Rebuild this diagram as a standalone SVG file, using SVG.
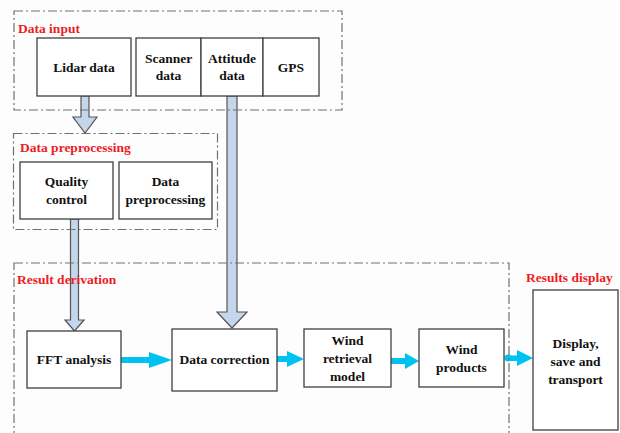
<svg xmlns="http://www.w3.org/2000/svg" width="620" height="433" viewBox="0 0 620 433">
<style>
.grp{fill:none;stroke:#707070;stroke-width:1.2;stroke-dasharray:9 3 2 3}
.box{fill:#fff;stroke:#404040;stroke-width:1.3}
.t{font-family:"Liberation Serif","Times New Roman",serif;font-weight:bold;font-size:13.5px;fill:#111;text-anchor:middle}
.lbl{font-family:"Liberation Serif","Times New Roman",serif;font-weight:bold;font-size:13.5px;fill:#ee1c24}
.blk{fill:#c5d6ec;stroke:#555;stroke-width:1.2;stroke-linejoin:miter}
.cy{fill:#00c2f0;stroke:none}
</style>
<rect width="620" height="433" fill="#fdfdfd"/>
<g id="connectors">
<polygon class="blk" points="81,96 89,96 89,117 97,117 85,133 73,117 81,117"/>
<polygon class="blk" points="70.5,219 78.5,219 78.5,320 84,320 74.5,331 65,320 70.5,320"/>
<polygon class="blk" points="227,96 237,96 237,312 247,312 232,328 217,312 227,312"/>
<polygon class="cy" points="121,357 149,357 149,352 172,360 149,368 149,363 121,363"/>
<polygon class="cy" points="277,356 287,356 287,351 304,359 287,367 287,362 277,362"/>
<polygon class="cy" points="391,358 405,358 405,353 419,361 405,369 405,364 391,364"/>
<polygon class="cy" points="508,355.5 517,355.5 517,350 533,358 517,366 517,361 508,361"/>
<circle class="cy" cx="508" cy="358" r="3.5"/>
</g>
<g id="group-data-input">
<rect class="grp" x="14" y="11" width="328" height="99"/>
<text class="lbl" x="18" y="33">Data input</text>
</g>
<g id="group-data-preprocessing">
<rect class="grp" x="13.5" y="133.5" width="204" height="96"/>
<text class="lbl" x="20" y="152">Data preprocessing</text>
</g>
<g id="group-result-derivation">
<rect class="grp" x="14" y="263" width="495" height="180"/>
<text class="lbl" x="17" y="284">Result derivation</text>
</g>
<g id="group-results-display">
<text class="lbl" x="526" y="282">Results display</text>
</g>
<g id="node-lidar-data">
<rect class="box" x="37" y="38" width="94" height="58"/>
<text class="t" x="84" y="72">Lidar data</text>
</g>
<g id="node-scanner-data">
<rect class="box" x="136" y="38" width="65" height="58"/>
<text class="t" x="168.5" y="63">Scanner</text>
<text class="t" x="168.5" y="80">data</text>
</g>
<g id="node-attitude-data">
<rect class="box" x="201" y="38" width="62" height="58"/>
<text class="t" x="232" y="63">Attitude</text>
<text class="t" x="232" y="80">data</text>
</g>
<g id="node-gps">
<rect class="box" x="263" y="38" width="56" height="58"/>
<text class="t" x="291" y="72">GPS</text>
</g>
<g id="node-quality-control">
<rect class="box" x="20" y="162" width="93" height="57"/>
<text class="t" x="66.5" y="186">Quality</text>
<text class="t" x="66.5" y="204">control</text>
</g>
<g id="node-data-preprocessing">
<rect class="box" x="119" y="162" width="93" height="57"/>
<text class="t" x="165.5" y="186">Data</text>
<text class="t" x="165.5" y="204">preprocessing</text>
</g>
<g id="node-fft-analysis">
<rect class="box" x="27" y="331" width="94" height="57"/>
<text class="t" x="74" y="364">FFT analysis</text>
</g>
<g id="node-data-correction">
<rect class="box" x="172" y="329" width="105" height="62"/>
<text class="t" x="224.5" y="364">Data correction</text>
</g>
<g id="node-wind-retrieval-model">
<rect class="box" x="304" y="329" width="87" height="58"/>
<text class="t" x="347.5" y="345">Wind</text>
<text class="t" x="347.5" y="363">retrieval</text>
<text class="t" x="347.5" y="381">model</text>
</g>
<g id="node-wind-products">
<rect class="box" x="419" y="329" width="85" height="58"/>
<text class="t" x="461.5" y="354">Wind</text>
<text class="t" x="461.5" y="372">products</text>
</g>
<g id="node-display">
<rect class="box" x="533" y="290" width="85" height="140"/>
<text class="t" x="575.5" y="348">Display,</text>
<text class="t" x="575.5" y="366">save and</text>
<text class="t" x="575.5" y="384">transport</text>
</g>
</svg>
